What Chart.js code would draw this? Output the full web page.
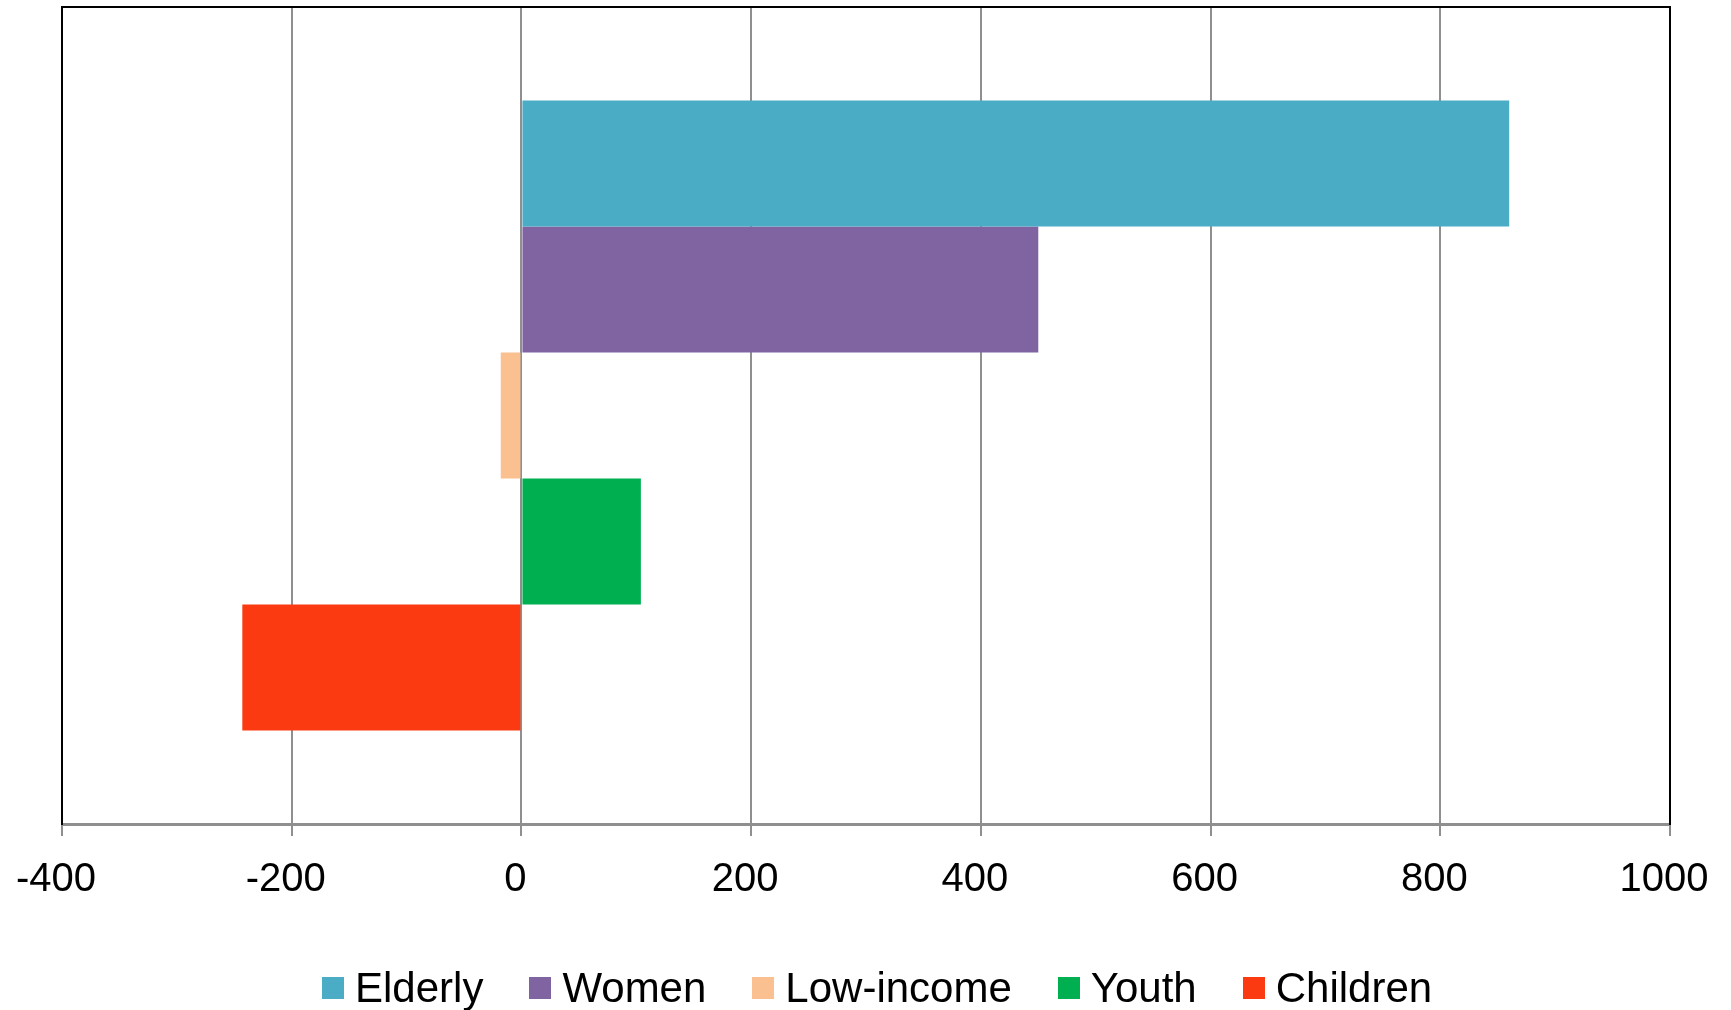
<!DOCTYPE html>
<html>
<head>
<meta charset="utf-8">
<script src="https://cdn.jsdelivr.net/npm/chart.js@4/dist/chart.umd.min.js"></script>
<style>
  html, body { margin: 0; padding: 0; background: #ffffff; overflow: hidden; }
  #wrap { position: relative; width: 1731px; height: 1010px; }
  #chart { position: absolute; left: 0; top: 0; }
  #legend {
    position: absolute; left: 322px; top: 967px;
    display: flex; align-items: flex-start;
    font-family: "Liberation Sans", Arial, sans-serif; font-size: 42px; line-height: 42px; color: #000;
    white-space: nowrap;
  }
  #legend .item { display: flex; align-items: flex-start; margin-right: 46px; }
  #legend .box { width: 22px; height: 22px; margin-top: 10px; margin-right: 11px; }
</style>
</head>
<body>
<div id="wrap">
  <canvas id="chart" width="1731" height="1010"></canvas>
  <div id="legend"></div>
</div>
<script>
// Single category, one bar per group
const categories = [''];
const seriesNames = ['Elderly', 'Women', 'Low-income', 'Youth', 'Children'];
const seriesValues = [[860], [450], [-18], [104], [-243]];
const seriesColors = ['#4BACC6', '#8064A2', '#FAC090', '#00B050', '#FC3A12'];
const xTicks = [-400, -200, 0, 200, 400, 600, 800, 1000];

const FONT = '"Liberation Sans", Arial, sans-serif';
const GRID = '#8f8f8f';

const datasets = seriesNames.map((name, i) => ({
  label: name,
  data: seriesValues[i],
  backgroundColor: seriesColors[i],
  borderWidth: 0,
  categoryPercentage: 0.771,
  barPercentage: 1.0
}));

const frameAxis = (position, extra) => Object.assign({
  position,
  display: true,
  grid: { display: false, drawTicks: false },
  ticks: { display: false },
  border: { display: true, color: '#000000', width: 2, z: 1 },
  afterFit(scale) { if (scale.isHorizontal()) scale.height = 0; else scale.width = 0; }
}, extra);

new Chart(document.getElementById('chart'), {
  type: 'bar',
  data: { labels: categories, datasets },
  options: {
    indexAxis: 'y',
    responsive: false,
    animation: false,
    layout: { padding: { left: 62, right: 61, top: 7, bottom: 0 } },
    plugins: { legend: { display: false }, tooltip: { enabled: false } },
    scales: {
      x: {
        type: 'linear',
        position: 'bottom',
        min: xTicks[0],
        max: xTicks[xTicks.length - 1],
        afterBuildTicks(scale) { scale.ticks = xTicks.map(v => ({ value: v })); },
        afterFit(scale) {
          scale.height = 186;
          // side margins come from the layout padding alone
          scale.paddingLeft = 0;
          scale.paddingRight = 0;
        },
        grid: { color: GRID, lineWidth: 2, tickLength: 12, tickColor: GRID, tickWidth: 2, drawTicks: true },
        border: { color: GRID, width: 3 },
        ticks: {
          color: '#000000',
          font: { family: FONT, size: 40 },
          padding: 20,
          labelOffset: -6,
          maxRotation: 0,
          autoSkip: false,
          callback: v => String(v)
        }
      },
      xTop: frameAxis('top', { type: 'linear', min: xTicks[0], max: xTicks[xTicks.length - 1] }),
      y: frameAxis('left', { type: 'category' }),
      yRight: frameAxis('right', { type: 'category', labels: categories })
    }
  }
});

// Legend row built from the same series arrays
const legend = document.getElementById('legend');
seriesNames.forEach((name, i) => {
  const item = document.createElement('div');
  item.className = 'item';
  const box = document.createElement('div');
  box.className = 'box';
  box.style.background = seriesColors[i];
  const label = document.createElement('span');
  label.textContent = name;
  item.appendChild(box);
  item.appendChild(label);
  legend.appendChild(item);
});
</script>
</body>
</html>
